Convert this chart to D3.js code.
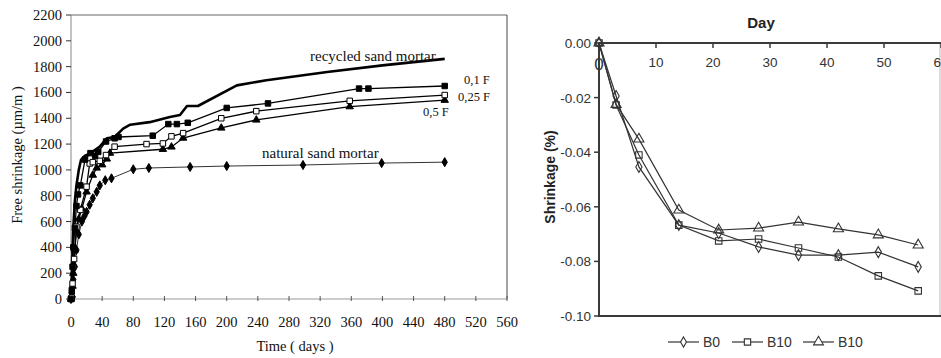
<!DOCTYPE html>
<html>
<head>
<meta charset="utf-8">
<script src="https://cdn.jsdelivr.net/npm/d3@7"></script>
<style>
  html, body { margin: 0; padding: 0; background: #fff; }
  svg { display: block; }
</style>
</head>
<body>
<svg id="chart" width="941" height="358"></svg>
<script>
// ---- Left panel: free shrinkage over time (days, µm/m) ----
const leftXTicks = [0, 40, 80, 120, 160, 200, 240, 280, 320, 360, 400, 440, 480, 520, 560];
const leftYTicks = [0, 200, 400, 600, 800, 1000, 1200, 1400, 1600, 1800, 2000, 2200];

const recycledMortar = [[0,0],[1,150],[2,380],[3,560],[5,760],[7,880],[10,1000],[13,1080],[18,1110],[24,1125],[37,1180],[46,1245],[56,1255],[67,1320],[76,1350],[101,1370],[127,1410],[140,1425],[149,1495],[163,1495],[213,1655],[251,1695],[329,1758],[400,1810],[480,1860]];
const fines01 = [[0,0],[1,60],[2,250],[3,400],[5,550],[7,720],[9,810],[12,880],[18,1080],[25,1130],[31,1110],[35,1140],[45,1220],[56,1245],[61,1255],[105,1265],[125,1355],[136,1355],[150,1365],[200,1480],[253,1515],[370,1630],[382,1630],[480,1650]];
const fines025 = [[0,0],[1,10],[2,120],[3,250],[4,310],[7,560],[12,690],[20,870],[24,1050],[28,1060],[37,1070],[45,1115],[56,1180],[97,1200],[118,1205],[129,1260],[144,1285],[193,1400],[238,1455],[358,1535],[480,1580]];
const fines05 = [[0,0],[1,30],[2,100],[3,200],[5,380],[7,530],[10,620],[14,700],[20,830],[28,960],[33,1015],[40,1040],[46,1085],[50,1130],[118,1160],[129,1178],[144,1247],[193,1325],[238,1387],[358,1490],[480,1540]];
const naturalMortar = [[0,0],[1,50],[3,150],[5,250],[7,380],[10,500],[14,600],[17,640],[20,675],[24,730],[28,780],[33,830],[37,880],[44,920],[52,935],[80,1005],[100,1015],[153,1023],[200,1030],[298,1038],[399,1053],[480,1060]];

// ---- Right panel: shrinkage (%) by day ----
const rightDays = [0, 3, 7, 14, 21, 28, 35, 42, 49, 56];
const rightXTicks = [0, 10, 20, 30, 40, 50, 60];
const rightYTicks = [0, -0.02, -0.04, -0.06, -0.08, -0.10];
const b0Values = [0, -0.0194, -0.0454, -0.0667, -0.0696, -0.0747, -0.0777, -0.0777, -0.0766, -0.0820];
const b10SquareValues = [0, -0.0227, -0.0410, -0.0667, -0.0725, -0.0718, -0.0751, -0.0784, -0.0853, -0.0908];
const b10TriangleValues = [0, -0.0225, -0.0352, -0.0612, -0.0685, -0.0678, -0.0656, -0.0681, -0.0703, -0.0740];
const rightLegend = ["B0", "B10", "B10"];

const svg = d3.select("#chart");
const serif = "'Liberation Serif', 'Times New Roman', serif";
const sans = "'Liberation Sans', Arial, sans-serif";

// ================= Left panel =================
const lx = d3.scaleLinear().domain([0, 560]).range([71, 507]);
const ly = d3.scaleLinear().domain([0, 2200]).range([299, 15]);
const L = svg.append("g");

// frame
L.append("line").attr("x1", lx(0)).attr("x2", lx(560)).attr("y1", ly(2200)).attr("y2", ly(2200))
  .attr("stroke", "#666").attr("stroke-width", 1);
L.append("line").attr("x1", lx(560)).attr("x2", lx(560)).attr("y1", ly(2200)).attr("y2", ly(0))
  .attr("stroke", "#444").attr("stroke-width", 1);
L.append("line").attr("x1", lx(0)).attr("x2", lx(0)).attr("y1", ly(2200)).attr("y2", ly(0))
  .attr("stroke", "#888").attr("stroke-width", 1);
L.append("line").attr("x1", lx(0)).attr("x2", lx(560)).attr("y1", ly(0)).attr("y2", ly(0))
  .attr("stroke", "#999").attr("stroke-width", 1);

// y ticks + labels
L.selectAll(".lyt").data(leftYTicks).enter().append("line")
  .attr("x1", lx(0) - 5).attr("x2", lx(0)).attr("y1", d => ly(d)).attr("y2", d => ly(d))
  .attr("stroke", "#333").attr("stroke-width", 1);
L.selectAll(".lyl").data(leftYTicks).enter().append("text")
  .attr("x", 62).attr("y", d => ly(d) + 5).attr("text-anchor", "end")
  .attr("font-family", serif).attr("font-size", 14.5).attr("fill", "#111").text(d => d);

// x ticks + labels
L.selectAll(".lxt").data(leftXTicks).enter().append("line")
  .attr("x1", d => lx(d)).attr("x2", d => lx(d)).attr("y1", ly(0) - 3).attr("y2", ly(0) + 2)
  .attr("stroke", "#555").attr("stroke-width", 1);
L.selectAll(".lxl").data(leftXTicks).enter().append("text")
  .attr("x", d => lx(d)).attr("y", 327).attr("text-anchor", "middle")
  .attr("font-family", serif).attr("font-size", 14.5).attr("fill", "#111").text(d => d);

// axis titles
L.append("text").attr("x", 295).attr("y", 351).attr("text-anchor", "middle")
  .attr("font-family", serif).attr("font-size", 14.5).attr("fill", "#111").text("Time ( days )");
L.append("text").attr("transform", "translate(22,155) rotate(-90)").attr("text-anchor", "middle")
  .attr("font-family", serif).attr("font-size", 14.5).attr("fill", "#111").text("Free shrinkage  (µm/m )");

const lline = d3.line().x(d => lx(d[0])).y(d => ly(d[1]));

// series lines
L.append("path").datum(naturalMortar).attr("d", lline).attr("fill", "none")
  .attr("stroke", "#333").attr("stroke-width", 1);
L.append("path").datum(fines05).attr("d", lline).attr("fill", "none")
  .attr("stroke", "#000").attr("stroke-width", 1.3);
L.append("path").datum(fines025).attr("d", lline).attr("fill", "none")
  .attr("stroke", "#000").attr("stroke-width", 1.3);
L.append("path").datum(fines01).attr("d", lline).attr("fill", "none")
  .attr("stroke", "#000").attr("stroke-width", 1.3);
L.append("path").datum(recycledMortar).attr("d", lline).attr("fill", "none")
  .attr("stroke", "#000").attr("stroke-width", 2.6).attr("stroke-linejoin", "round");

// series markers
function leftMarkers(data, type, size, fill) {
  L.append("g").selectAll("path").data(data).enter().append("path")
    .attr("transform", d => `translate(${lx(d[0])},${ly(d[1])})`)
    .attr("d", d3.symbol().type(type).size(size))
    .attr("fill", fill).attr("stroke", "#000").attr("stroke-width", 1);
}
leftMarkers(naturalMortar, d3.symbolDiamond, 24, "#000");
leftMarkers(fines05, d3.symbolTriangle, 24, "#000");
leftMarkers(fines025, d3.symbolSquare, 30, "#fff");
leftMarkers(fines01, d3.symbolSquare, 30, "#000");

// in-plot labels
const leftLabels = [
  { t: "recycled sand mortar", x: 310, y: 61, s: 15 },
  { t: "0,1 F", x: 464, y: 84, s: 12.5 },
  { t: "0,25 F", x: 458, y: 101, s: 12.5 },
  { t: "0,5  F", x: 423, y: 116, s: 12.5 },
  { t: "natural sand mortar", x: 262, y: 158, s: 15 }
];
L.selectAll(".ll").data(leftLabels).enter().append("text")
  .attr("x", d => d.x).attr("y", d => d.y).attr("font-family", serif)
  .attr("font-size", d => d.s).attr("fill", "#111").text(d => d.t);

// ================= Right panel =================
const rx = d3.scaleLinear().domain([0, 60]).range([599, 941]);
const ry = d3.scaleLinear().domain([0, -0.10]).range([43, 316]);
const R = svg.append("g");
const axisCol = "#3a3a3a";

// right border
R.append("line").attr("x1", 940).attr("x2", 940).attr("y1", ry(0)).attr("y2", ry(-0.10))
  .attr("stroke", "#bbb").attr("stroke-width", 1);
// bottom line
R.append("line").attr("x1", rx(0)).attr("x2", 941).attr("y1", ry(-0.10)).attr("y2", ry(-0.10))
  .attr("stroke", axisCol).attr("stroke-width", 2);
// top axis
R.append("line").attr("x1", rx(0) - 1).attr("x2", 941).attr("y1", ry(0)).attr("y2", ry(0))
  .attr("stroke", axisCol).attr("stroke-width", 2);
// left axis
R.append("line").attr("x1", rx(0)).attr("x2", rx(0)).attr("y1", ry(0) - 1).attr("y2", ry(-0.10) + 1)
  .attr("stroke", axisCol).attr("stroke-width", 2);

R.selectAll(".rxt").data(rightXTicks).enter().append("line")
  .attr("x1", d => rx(d)).attr("x2", d => rx(d)).attr("y1", ry(0)).attr("y2", ry(0) + 5)
  .attr("stroke", axisCol).attr("stroke-width", 1.5);
R.selectAll(".rxl").data(rightXTicks).enter().append("text")
  .attr("x", d => rx(d)).attr("y", 67).attr("text-anchor", "middle")
  .attr("font-family", sans).attr("fill", "#333")
  .attr("font-size", d => d === 0 ? 17 : 13.5)
  .attr("dy", d => d === 0 ? 3 : 0)
  .text(d => d);

R.selectAll(".ryt").data(rightYTicks).enter().append("line")
  .attr("x1", rx(0) - 5).attr("x2", rx(0)).attr("y1", d => ry(d)).attr("y2", d => ry(d))
  .attr("stroke", axisCol).attr("stroke-width", 1.5);
R.selectAll(".ryl").data(rightYTicks).enter().append("text")
  .attr("x", 591).attr("y", d => ry(d) + 5).attr("text-anchor", "end")
  .attr("font-family", sans).attr("font-size", 13.5).attr("fill", "#333")
  .text(d => d3.format(".2f")(d).replace("−", "-"));

R.append("text").attr("x", 761).attr("y", 28).attr("text-anchor", "middle")
  .attr("font-family", sans).attr("font-weight", "bold").attr("font-size", 15).attr("fill", "#222").text("Day");
R.append("text").attr("transform", "translate(555,177) rotate(-90)").attr("text-anchor", "middle")
  .attr("font-family", sans).attr("font-weight", "bold").attr("font-size", 14).attr("fill", "#222").text("Shrinkage (%)");

const rline = d3.line().x((d, i) => rx(rightDays[i])).y(d => ry(d));
const rightSeries = [
  { vals: b10TriangleValues, type: d3.symbolTriangle, size: 44 },
  { vals: b10SquareValues, type: d3.symbolSquare, size: 42 },
  { vals: b0Values, type: d3.symbolDiamond, size: 34 }
];
rightSeries.forEach(s => {
  R.append("path").datum(s.vals).attr("d", rline).attr("fill", "none")
    .attr("stroke", "#333").attr("stroke-width", 1.2);
});
rightSeries.forEach(s => {
  R.append("g").selectAll("path").data(s.vals).enter().append("path")
    .attr("transform", (d, i) => `translate(${rx(rightDays[i])},${ry(d)})`)
    .attr("d", d3.symbol().type(s.type).size(s.size))
    .attr("fill", "none").attr("stroke", "#333").attr("stroke-width", 1.1);
});

// legend
const legendItems = [
  { label: rightLegend[0], type: d3.symbolDiamond, size: 30, x: 668 },
  { label: rightLegend[1], type: d3.symbolSquare, size: 40, x: 732 },
  { label: rightLegend[2], type: d3.symbolTriangle, size: 42, x: 803 }
];
const lg = R.append("g");
legendItems.forEach(it => {
  lg.append("line").attr("x1", it.x).attr("x2", it.x + 31).attr("y1", 342).attr("y2", 342)
    .attr("stroke", "#333").attr("stroke-width", 1.2);
  lg.append("path").attr("transform", `translate(${it.x + 15.5},342)`)
    .attr("d", d3.symbol().type(it.type).size(it.size))
    .attr("fill", "#fff").attr("stroke", "#333").attr("stroke-width", 1.1);
  lg.append("text").attr("x", it.x + 35).attr("y", 347).attr("font-family", sans)
    .attr("font-size", 14).attr("fill", "#333").text(it.label);
});
</script>
</body>
</html>
